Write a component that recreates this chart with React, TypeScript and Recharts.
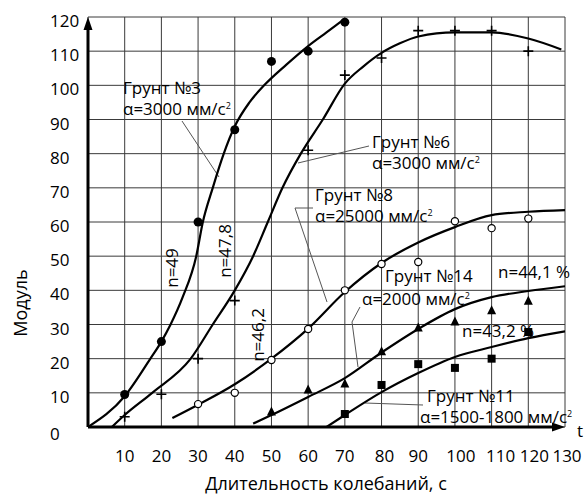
import {
  CartesianGrid,
  ComposedChart,
  Customized,
  Line,
  Scatter,
  XAxis,
  YAxis,
} from 'recharts';

// tick labels
const xTicks = [10, 20, 30, 40, 50, 60, 70, 80, 90, 100, 110, 120, 130];
const yTicks = [0, 10, 20, 30, 40, 50, 60, 70, 80, 90, 100, 110, 120];

// measured points (markers)
const soil3Points = [
  { x: 10, y: 9.5 }, { x: 20, y: 25 }, { x: 30, y: 60 }, { x: 40, y: 87 },
  { x: 50, y: 107 }, { x: 60, y: 110 }, { x: 70, y: 118.5 },
];
const soil6Points = [
  { x: 10, y: 3 }, { x: 20, y: 9.6 }, { x: 30, y: 20 }, { x: 40, y: 37 },
  { x: 60, y: 81 }, { x: 70, y: 103 }, { x: 80, y: 108 }, { x: 90, y: 116 },
  { x: 100, y: 116 }, { x: 110, y: 116 }, { x: 120, y: 110 },
];
const soil8Points = [
  { x: 30, y: 6.7 }, { x: 40, y: 10 }, { x: 50, y: 19.6 }, { x: 60, y: 28.7 },
  { x: 70, y: 40 }, { x: 80, y: 47.7 }, { x: 90, y: 48.3 }, { x: 100, y: 60.2 },
  { x: 110, y: 58.2 }, { x: 120, y: 61 },
];
const soil14Points = [
  { x: 50, y: 4.4 }, { x: 60, y: 10.8 }, { x: 70, y: 12.6 }, { x: 80, y: 22 },
  { x: 90, y: 29 }, { x: 100, y: 30.7 }, { x: 110, y: 34 }, { x: 120, y: 36.8 },
];
const soil11Points = [
  { x: 70, y: 3.8 }, { x: 80, y: 12.3 }, { x: 90, y: 18.4 }, { x: 100, y: 17.3 },
  { x: 110, y: 20 }, { x: 120, y: 27.8 },
];

// fitted curves
const soil3Curve = [
  { x: 0, y: 0 }, { x: 10, y: 9 }, { x: 17, y: 20 }, { x: 20, y: 25 },
  { x: 22.5, y: 30 }, { x: 25.8, y: 38 }, { x: 29.5, y: 50 }, { x: 31.3, y: 60 },
  { x: 34, y: 70 }, { x: 37, y: 80 }, { x: 40, y: 88 }, { x: 44, y: 95 },
  { x: 48, y: 100 }, { x: 54, y: 106 }, { x: 60, y: 111.5 }, { x: 65, y: 115.5 },
  { x: 70, y: 119.5 },
];
const soil6Curve = [
  { x: 6.5, y: 0 }, { x: 10, y: 3.5 }, { x: 17.5, y: 10 }, { x: 28, y: 20 },
  { x: 34, y: 30 }, { x: 40, y: 40 }, { x: 45, y: 50 }, { x: 49, y: 60 },
  { x: 53, y: 70 }, { x: 58, y: 80 }, { x: 64, y: 90 }, { x: 70, y: 100.5 },
  { x: 75, y: 105.5 }, { x: 80, y: 109.5 }, { x: 85, y: 112.3 }, { x: 90, y: 114.3 },
  { x: 100, y: 115.5 }, { x: 110, y: 115.5 }, { x: 120, y: 113.7 }, { x: 129, y: 110.5 },
];
const soil8Curve = [
  { x: 23, y: 2.6 }, { x: 30, y: 6.5 }, { x: 40, y: 12.5 }, { x: 50, y: 20 },
  { x: 60, y: 28.8 }, { x: 70, y: 39.5 }, { x: 80, y: 48 }, { x: 90, y: 54 },
  { x: 100, y: 58.5 }, { x: 110, y: 62 }, { x: 120, y: 63 }, { x: 130, y: 63.5 },
];
const soil14Curve = [
  { x: 45, y: 1 }, { x: 50, y: 3.5 }, { x: 60, y: 8.8 }, { x: 70, y: 14.3 },
  { x: 80, y: 21.8 }, { x: 90, y: 28.7 }, { x: 100, y: 34.5 }, { x: 110, y: 38 },
  { x: 120, y: 39.8 }, { x: 130, y: 41.2 },
];
const soil11Curve = [
  { x: 65, y: 0 }, { x: 70, y: 3.5 }, { x: 80, y: 10.2 }, { x: 90, y: 15.8 },
  { x: 100, y: 20.5 }, { x: 110, y: 23.4 }, { x: 120, y: 26 }, { x: 130, y: 28 },
];

const FONT = '"Open Sans", sans-serif';
const FS = 17;
const plot = { left: 88, top: 17, right: 565, bottom: 427 };

const dotFilled = (p: any) => <circle cx={p.cx} cy={p.cy} r={4.5} fill="#000" />;
const dotOpen = (p: any) => (
  <circle cx={p.cx} cy={p.cy} r={3.6} fill="#fff" stroke="#000" strokeWidth={1.2} />
);
const dotPlus = (p: any) => (
  <path
    d={`M${p.cx - 5},${p.cy}H${p.cx + 5}M${p.cx},${p.cy - 5}V${p.cy + 5}`}
    stroke="#000"
    strokeWidth={1.6}
  />
);
const dotTriangle = (p: any) => (
  <path d={`M${p.cx},${p.cy - 5.5}L${p.cx + 4.5},${p.cy + 3.5}L${p.cx - 4.5},${p.cy + 3.5}Z`} fill="#000" />
);
const dotSquare = (p: any) => (
  <rect x={p.cx - 4} y={p.cy - 4} width={8} height={8} fill="#000" />
);

const xShift: Record<number, number> = { 80: 3, 100: 6, 110: 9, 120: 6, 130: 2 };

const XTick = ({ x, payload }: any) => (
  <text x={x + (xShift[payload.value] ?? 0)} y={462} textAnchor="middle" fontSize={FS} fontFamily={FONT} fill="#000">
    {payload.value}
  </text>
);

const YTick = ({ y, payload }: any) => (
  <text x={50} y={y + (payload.value === 0 ? 13 : 10)} textAnchor="start" fontSize={FS} fontFamily={FONT} fill="#000">
    {payload.value}
  </text>
);

const Sq = () => <tspan dy={-6} fontSize={9}>2</tspan>;

const Label2 = ({ x, y, title, accel, ax, gap = 21 }: any) => (
  <g fontSize={FS} fontFamily={FONT} fill="#000">
    <text x={x} y={y}>{title}</text>
    <text x={ax ?? x} y={y + gap}>
      α={accel} мм/с<Sq />
    </text>
  </g>
);

function Annotations() {
  const lead = { stroke: '#555', strokeWidth: 1, fill: 'none' };
  return (
    <g>
      {/* axes with arrows */}
      <line x1={plot.left} y1={plot.bottom} x2={plot.left} y2={plot.top + 8} stroke="#000" strokeWidth={3} />
      <path d={`M${plot.left},${plot.top}L${plot.left + 4.5},${plot.top + 13}L${plot.left - 4.5},${plot.top + 13}Z`} fill="#000" />
      <line x1={plot.left} y1={plot.bottom} x2={plot.right - 8} y2={plot.bottom} stroke="#000" strokeWidth={3} />
      <path d={`M${plot.right},${plot.bottom}L${plot.right - 13},${plot.bottom - 4.5}L${plot.right - 13},${plot.bottom + 4.5}Z`} fill="#000" />

      {/* leaders */}
      <polyline points="182,121 219,177" {...lead} />
      <polyline points="369,146 298,163" {...lead} />
      <polyline points="313,208 295,208 327,302" {...lead} />
      <polyline points="360,307 352,322 358,367" {...lead} />
      <polyline points="365,403 423,405" {...lead} />

      <Label2 x={123} y={94} title="Грунт №3" accel="3000" />
      <Label2 x={372} y={148} title="Грунт №6" accel="3000" />
      <Label2 x={315} y={201} title="Грунт №8" accel="25000" />
      <Label2 x={385} y={282} ax={362} gap={23} title="Грунт №14" accel="2000" />
      <Label2 x={427} y={402} ax={420} title="Грунт №11" accel="1500-1800" />

      <g fontSize={FS} fontFamily={FONT} fill="#000">
        <text x={498} y={278}>n=44,1 %</text>
        <text x={462} y={337}>n=43,2 %</text>
        <text transform="translate(178,268) rotate(-90)" textAnchor="middle">n=49</text>
        <text transform="translate(231,251) rotate(-90)" textAnchor="middle">n=47,8</text>
        <text transform="translate(264,335) rotate(-90)" textAnchor="middle">n=46,2</text>
        <text x={577} y={437}>t</text>
        <text transform="translate(27,303) rotate(-90)" textAnchor="middle" fontSize={18}>Модуль</text>
        <text x={326} y={490} textAnchor="middle" fontSize={18}>Длительность колебаний, с</text>
      </g>
    </g>
  );
}

const curves = [soil3Curve, soil6Curve, soil8Curve, soil14Curve, soil11Curve];
const markerSets = [
  { data: soil3Points, shape: dotFilled },
  { data: soil6Points, shape: dotPlus },
  { data: soil8Points, shape: dotOpen },
  { data: soil14Points, shape: dotTriangle },
  { data: soil11Points, shape: dotSquare },
];

export default function App() {
  return (
    <div style={{ position: 'absolute', left: 0, top: 0, width: 586, height: 495, background: '#fff', fontFamily: FONT }}>
      <ComposedChart width={586} height={495} margin={{ top: 17, right: 21, left: 0, bottom: 0 }}>
        <CartesianGrid stroke="#3a3a3a" strokeWidth={1} />
        <XAxis
          type="number"
          dataKey="x"
          domain={[0, 130]}
          ticks={xTicks}
          height={68}
          axisLine={false}
          tickLine={false}
          tick={<XTick />}
          allowDataOverflow
        />
        <YAxis
          type="number"
          dataKey="y"
          domain={[0, 120]}
          ticks={yTicks}
          width={88}
          axisLine={false}
          tickLine={false}
          tick={<YTick />}
          allowDataOverflow
        />
        {curves.map((c, i) => (
          <Line
            key={'c' + i}
            data={c}
            dataKey="y"
            type="monotone"
            stroke="#000"
            strokeWidth={2.2}
            dot={false}
            activeDot={false}
            isAnimationActive={false}
          />
        ))}
        {markerSets.map((m, i) => (
          <Scatter key={'m' + i} data={m.data} dataKey="y" shape={m.shape} isAnimationActive={false} />
        ))}
        <Customized component={Annotations} />
      </ComposedChart>
    </div>
  );
}
